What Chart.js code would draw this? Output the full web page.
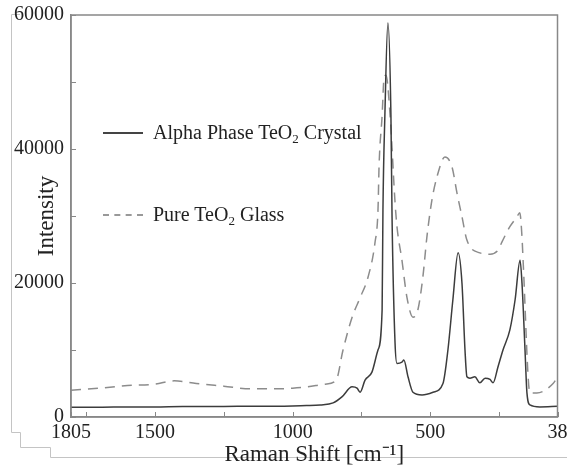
<!DOCTYPE html>
<html>
<head>
<meta charset="utf-8">
<script src="https://cdn.jsdelivr.net/npm/chart.js@4/dist/chart.umd.min.js"></script>
<style>
  body { margin: 0; background: #fff; }
  #wrap { position: relative; width: 567px; height: 466px; }
  .leg { position: absolute; left: 103px; font-family: "Liberation Serif", serif; font-size: 20px; color: #222; white-space: nowrap; }
  .leg .swatch { display: inline-block; width: 40px; height: 0; vertical-align: middle; margin-right: 10px; position: relative; top: -1px; }
  .leg sub { font-size: 13px; vertical-align: -4px; line-height: 0; }
</style>
</head>
<body>
<div id="wrap">
  <canvas id="chart" width="567" height="466"></canvas>
  <div class="leg" style="top:121px"><span class="swatch" style="border-top:2px solid #444"></span>Alpha Phase TeO<sub>2</sub> Crystal</div>
  <div class="leg" style="top:203px"><span class="swatch" style="border-top:2px dashed #999"></span>Pure TeO<sub>2</sub> Glass</div>
</div>
<script>
// Raman shift (cm-1) and intensity
const crystalX = [1805, 1700, 1600, 1500, 1400, 1300, 1200, 1100, 1000, 950, 900, 853, 821, 784, 766, 755, 737, 712, 690, 675, 672, 665, 654, 643, 639, 628, 621, 603, 596, 581, 563, 530, 490, 454, 436, 418, 399, 385, 374, 367, 356, 338, 320, 301, 283, 272, 254, 236, 211, 192, 174, 167, 156, 149, 138, 102, 38];
const crystalY = [1450, 1450, 1500, 1500, 1550, 1550, 1600, 1600, 1650, 1700, 1800, 2100, 3000, 4500, 4300, 3700, 5500, 6700, 10000, 16000, 30900, 45000, 58800, 45000, 30000, 11000, 8000, 8200, 8500, 6000, 3700, 3300, 3700, 5000, 10000, 17500, 24500, 20000, 10000, 6000, 5800, 6000, 5100, 5800, 5600, 5100, 7500, 10000, 13000, 17500, 23400, 20000, 10000, 3600, 1800, 1500, 1600];

const glassX = [1805, 1700, 1600, 1500, 1430, 1350, 1250, 1150, 1050, 1000, 948, 882, 842, 817, 784, 755, 726, 701, 690, 686, 675, 668, 661, 646, 628, 621, 603, 585, 563, 545, 527, 512, 494, 476, 447, 421, 403, 385, 367, 320, 283, 254, 240, 211, 185, 175, 167, 163, 138, 113, 54, 38];
const glassY = [4000, 4300, 4700, 4900, 5400, 5000, 4600, 4200, 4200, 4300, 4500, 4900, 5500, 10000, 14900, 17800, 20900, 26000, 30900, 37600, 45000, 50600, 51000, 45000, 32000, 28400, 23400, 17900, 14900, 16000, 20900, 27000, 32400, 35800, 38800, 37300, 33400, 29900, 26400, 24500, 24300, 24900, 26100, 28400, 29900, 30500, 26900, 23400, 3600, 3600, 5000, 6000];

const xTicks = [1805, 1750, 1500, 1250, 1000, 750, 500, 250, 38];
const xLabels = [1805, 1500, 1000, 500, 38];
const yLabels = [0, 20000, 40000, 60000];

const serif = "'Liberation Serif', 'Times New Roman', serif";
const axisGrey = "#888";

// stepped scan border outside the plot + box + inward ticks
const framePlugin = {
  id: "frame",
  beforeDraw(chart) {
    const ctx = chart.ctx;
    ctx.save();
    ctx.strokeStyle = "#c4c4c4";
    ctx.lineWidth = 1;
    ctx.beginPath();
    ctx.moveTo(20, 14.5);
    ctx.lineTo(11.5, 14.5);
    ctx.lineTo(11.5, 432.5);
    ctx.lineTo(20.5, 432.5);
    ctx.lineTo(20.5, 447.5);
    ctx.lineTo(50.5, 447.5);
    ctx.lineTo(50.5, 457.5);
    ctx.lineTo(567, 457.5);
    ctx.stroke();
    ctx.restore();
  },
  afterDraw(chart) {
    const ctx = chart.ctx;
    const a = chart.chartArea;
    const xs = chart.scales.x, ys = chart.scales.y;
    ctx.save();
    ctx.strokeStyle = axisGrey;
    ctx.lineWidth = 1.5;
    ctx.strokeRect(a.left, a.top, a.right - a.left, a.bottom - a.top);
    ctx.lineWidth = 1;
    ctx.beginPath();
    xs.ticks.forEach(t => {
      const px = Math.round(xs.getPixelForValue(t.value)) + 0.5;
      ctx.moveTo(px, a.bottom);
      ctx.lineTo(px, a.bottom - 5);
    });
    ys.ticks.forEach(t => {
      const py = Math.round(ys.getPixelForValue(t.value)) + 0.5;
      ctx.moveTo(a.left, py);
      ctx.lineTo(a.left + 5, py);
    });
    ctx.stroke();
    ctx.restore();
  }
};

new Chart(document.getElementById("chart"), {
  type: "scatter",
  data: {
    datasets: [
      {
        label: "Alpha Phase TeO2 Crystal",
        data: crystalX.map((x, i) => ({ x: x, y: crystalY[i] })),
        showLine: true,
        borderColor: "#3c3c3c",
        borderWidth: 1.5,
        pointRadius: 0,
        cubicInterpolationMode: "monotone"
      },
      {
        label: "Pure TeO2 Glass",
        data: glassX.map((x, i) => ({ x: x, y: glassY[i] })),
        showLine: true,
        borderColor: "#8c8c8c",
        borderWidth: 1.5,
        borderDash: [10, 7],
        pointRadius: 0,
        cubicInterpolationMode: "monotone"
      }
    ]
  },
  options: {
    responsive: false,
    animation: false,
    layout: { padding: { left: 0, right: 9.5, top: 15, bottom: 0 } },
    plugins: { legend: { display: false }, tooltip: { enabled: false } },
    scales: {
      x: {
        type: "linear",
        reverse: true,
        min: 38,
        max: 1805,
        afterBuildTicks: s => { s.ticks = xTicks.map(v => ({ value: v })); },
        afterFit: s => { s.height = 49; s.paddingLeft = 0; s.paddingRight = 0; },
        ticks: {
          autoSkip: false,
          maxRotation: 0,
          padding: 4,
          color: "#222",
          font: { family: serif, size: 20 },
          callback: v => (xLabels.includes(v) ? String(v) : "")
        },
        grid: { drawOnChartArea: false, drawTicks: false },
        border: { color: axisGrey, width: 1.5 },
        title: {
          display: true,
          text: "Raman Shift [cm\u207B\u00B9]",
          color: "#222",
          font: { family: serif, size: 23 },
          padding: { top: 0, bottom: -3 }
        }
      },
      y: {
        min: 0,
        max: 60000,
        afterBuildTicks: s => {
          const t = [];
          for (let v = 0; v <= 60000; v += 10000) t.push({ value: v });
          s.ticks = t;
        },
        afterFit: s => { s.width = 71; s.paddingTop = 0; s.paddingBottom = 0; },
        ticks: {
          padding: 7,
          color: "#222",
          font: { family: serif, size: 20 },
          callback: v => (yLabels.includes(v) ? String(v) : "")
        },
        grid: { drawOnChartArea: false, drawTicks: false },
        border: { color: axisGrey, width: 1.5 },
        title: {
          display: true,
          text: "Intensity",
          color: "#222",
          font: { family: serif, size: 23 },
          padding: { top: 33, bottom: 0 }
        }
      }
    }
  },
  plugins: [framePlugin]
});
</script>
</body>
</html>
